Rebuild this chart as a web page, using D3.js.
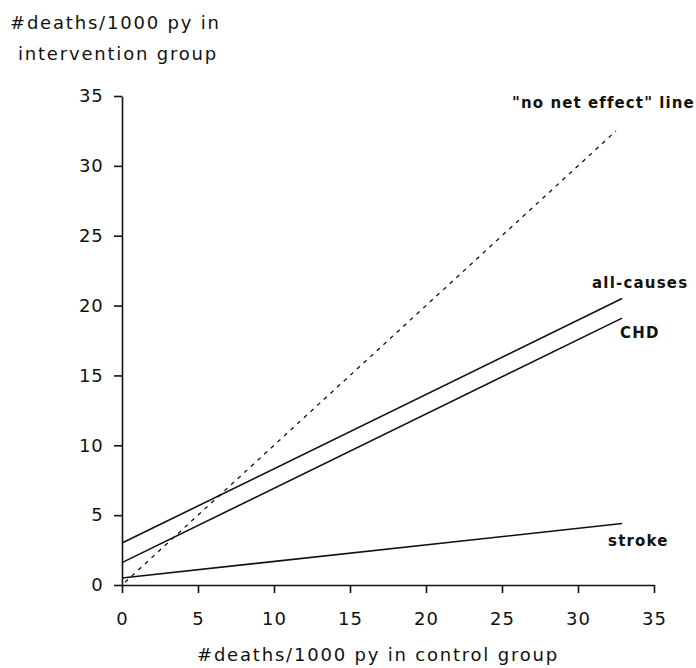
<!DOCTYPE html>
<html>
<head>
<meta charset="utf-8">
<script src="https://cdn.jsdelivr.net/npm/d3@7"></script>
<style>
    body { margin: 0; background: #fff; }
    svg text { font-family: "DejaVu Sans", sans-serif; fill: #111; }
    .axis path, .axis line { stroke: #111; stroke-width: 1.6; }
    .axis text { font-size: 18px; letter-spacing: 1px; }
</style>
</head>
<body>
<div class="chart"></div>
<script>
//Data
const xTicks = [0, 5, 10, 15, 20, 25, 30, 35];
const yTicks = [0, 5, 10, 15, 20, 25, 30, 35];
const seriesNames = ['all-causes', 'CHD', 'stroke'];
// [control, intervention] for start and end of each fitted line
const allCauses = [[0, 3.0], [32.9, 20.5]];
const chd = [[0, 1.6], [32.9, 19.1]];
const stroke = [[0, 0.5], [32.9, 4.4]];
const noEffect = [[0.2, 0.2], [32.5, 32.5]];

const svg_width = 696;
const svg_height = 668;

const svg = d3.select('.chart').append('svg')
    .attr('width', svg_width).attr('height', svg_height);

//scale
const xScale = d3.scaleLinear([0, 35], [122, 654]);
const yScale = d3.scaleLinear([0, 35], [585, 96]);

//axis
const xAxis = d3.axisBottom(xScale).tickValues(xTicks).tickSizeInner(8).tickSizeOuter(0);
const yAxis = d3.axisLeft(yScale).tickValues(yTicks).tickSizeInner(8).tickSizeOuter(0);

svg.append('g').attr('class', 'x axis')
    .attr('transform', `translate(0,${yScale(0)})`)
    .call(xAxis)
    .selectAll('text').attr('dy', '1.6em');
svg.append('g').attr('class', 'y axis')
    .attr('transform', `translate(${xScale(0)},0)`)
    .call(yAxis)
    .selectAll('text').attr('dx', '-0.4em');

const line = d3.line().x(d => xScale(d[0])).y(d => yScale(d[1]));

//lines
svg.append('path').datum(noEffect).attr('d', line)
    .attr('fill', 'none').attr('stroke', '#111').attr('stroke-width', 1.3)
    .attr('stroke-dasharray', '4,5');

const lines = [allCauses, chd, stroke];
svg.selectAll('.fit').data(lines).join('path').attr('class', 'fit')
    .attr('d', line).attr('fill', 'none')
    .attr('stroke', '#111').attr('stroke-width', 1.6);

//labels
const labelPos = [[592, 288], [620, 338], [608, 546]];
svg.selectAll('.lab').data(seriesNames).join('text').attr('class', 'lab')
    .attr('x', (d, i) => labelPos[i][0]).attr('y', (d, i) => labelPos[i][1])
    .style('font-size', '15px').style('letter-spacing', '1.2px').style('font-weight', 'bold')
    .text(d => d);

svg.append('text').attr('x', 512).attr('y', 108)
    .style('font-size', '15px').style('letter-spacing', '1.1px').style('font-weight', 'bold')
    .text('"no net effect" line');

//axis titles
svg.append('text').attr('x', 10).attr('y', 29)
    .style('font-size', '18px').style('letter-spacing', '1.8px')
    .text('#deaths/1000 py in');
svg.append('text').attr('x', 18).attr('y', 60)
    .style('font-size', '18px').style('letter-spacing', '1.8px')
    .text('intervention group');
svg.append('text').attr('x', 378).attr('y', 661)
    .attr('text-anchor', 'middle')
    .style('font-size', '18px').style('letter-spacing', '1.8px')
    .text('#deaths/1000 py in control group');
</script>
</body>
</html>
